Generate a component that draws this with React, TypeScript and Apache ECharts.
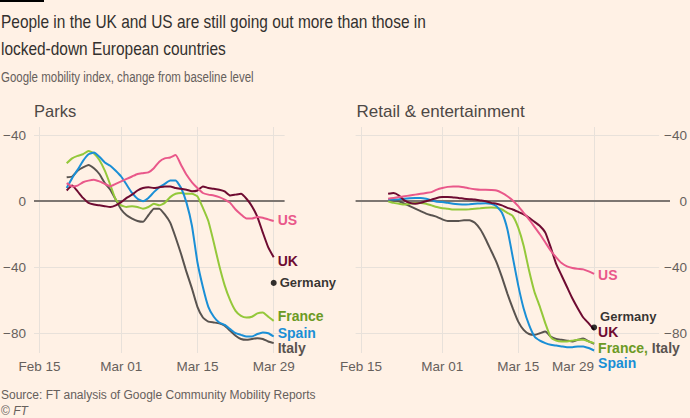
import React, { useEffect, useRef } from 'react';
import * as echarts from 'echarts';

// ---------- categories ----------
const MONTHS = ['Jan', 'Feb', 'Mar', 'Apr'];
function dayLabels(month: number, day: number, count: number): string[] {
  const out: string[] = [];
  for (let i = 0; i < count; i++) {
    const t = new Date(Date.UTC(2020, month, day + i));
    out.push(MONTHS[t.getUTCMonth()] + ' ' + String(t.getUTCDate()).padStart(2, '0'));
  }
  return out;
}
const catsParks = dayLabels(1, 14, 47); // Feb 14 .. Mar 31
const catsRetail = dayLabels(1, 14, 59); // Feb 14 .. Apr 12
const dataDates = dayLabels(1, 20, 39); // Feb 20 .. Mar 29
const tickLabels = ['Feb 15', 'Mar 01', 'Mar 15', 'Mar 29'];
const yTicks = [-80, -40, 0, 40];
const yGridLines = [-80, -40, 40];
const lastDate = 'Mar 29';

// ---------- Parks ----------
const parksUS = [11, 9, 9.5, 11.5, 12.5, 13, 12, 10.5, 9, 10.5, 12, 13.5, 15, 16.5, 17, 17.5, 20, 24, 26, 26.5, 28, 22, 16, 11.5, 8, 5, 4, 3.5, 2.5, 1, -1, -5, -8, -10.5, -10.5, -9.5, -10, -11, -12];
const parksUK = [6.5, 9.5, 6, 2, -1, -2, -2.5, -3, -3.5, -2.5, -0.5, 2, 4, 6.5, 8, 8.5, 8, 8.5, 9, 9, 8, 7.5, 7, 6, 6.5, 9, 8, 7.5, 7, 6, 3.5, 4, 4.5, 1.5, -3, -9.5, -19, -28, -34];
const parksFrance = [23, 26, 27.5, 28.5, 30.5, 29, 25, 18.5, 10, 1, -2.5, -3.5, -3, -3.5, -4.5, -3.5, -1.5, -2.5, -1, 2.5, 4.5, 5, 4.5, 4.5, 3, -4, -12, -25, -39, -51, -60, -66.5, -69.5, -70.5, -70, -68, -67.5, -70, -72.5];
const parksSpain = [8, 14, 19, 24.5, 28.5, 29.5, 27, 23.5, 21.5, 18.5, 15, 10, 5, 1.5, 0, 2, 5.5, 8.5, 10.5, 12.5, 12.5, 8, -1, -15, -37, -52, -64, -70, -73.5, -75, -77.5, -80, -81, -82, -82, -80.5, -79.5, -80, -82];
const parksItaly = [14.5, 15, 18.5, 20.5, 22, 20, 16.5, 11, 7, 1, -5, -8.5, -10.5, -12, -12.5, -8.5, -4.5, -4.5, -8, -13, -22, -32, -43, -53, -64, -70.5, -73, -73.5, -74, -75.5, -78.5, -81.5, -83.5, -84, -83.5, -83, -83.5, -85, -86];
const parksGermany = -49.5;

// ---------- Retail & entertainment ----------
const retailUS = [1.5, 2, 2.5, 3, 3.5, 4, 4.5, 5, 5.5, 7, 8, 8.7, 9, 9, 8.5, 7.8, 7.3, 7, 7, 6.8, 6.5, 5, 3, 0.5, -3, -7, -11, -15.5, -20, -25, -30, -34, -37.5, -39.5, -40.5, -41, -41.3, -42.5, -44];
const retailUK = [4.5, 5, 3.5, 0.5, -1, -1.5, -1, 0, 1, 2, 2.5, 2.6, 2.3, 2, 1.5, 1.2, 1, 0.5, 0, -1, -1.5, -2.5, -4, -5, -6.5, -8, -10, -12.5, -15, -19, -28, -38, -45, -52, -59, -65, -70.5, -74, -78];
const retailFrance = [0, -1, -1.5, -2, -1.5, -1, -1, -1.5, -2.5, -3.5, -4.2, -4.5, -5, -5, -5, -4.8, -4.5, -4.3, -4, -3.8, -4, -5, -7, -9, -16, -27, -42, -55, -64, -74, -82.5, -84.5, -85, -85, -84.5, -84, -84, -85, -86];
const retailSpain = [1, 1, 1.2, 1.5, 1.8, 2, 2, 1.5, 0.5, -0.3, -0.5, -1, -1.5, -1.8, -2, -1.8, -1.5, -1.3, -1.2, -1.5, -3, -7, -17, -34, -51, -65, -75, -82, -84.5, -86, -87, -87.5, -88, -88.5, -88.5, -88, -88, -89, -90.5];
const retailItaly = [0.5, 0.5, 0, -1.5, -3, -4.5, -6, -7.5, -8.5, -9.5, -11, -12, -12, -12, -11.5, -11.5, -13, -17, -23, -30, -37, -46, -56, -65, -73, -78, -80.5, -81, -80, -79, -82, -83.5, -84, -84.5, -85, -84, -83.2, -85, -86.5];
const retailGermany = -76.5;

// ---------- styles ----------
const BG = '#fff1e5';
const FONT = "'Liberation Sans', Arial, sans-serif";
const C = {
  US: '#e9588a',
  UK: '#6e0b31',
  France: '#94c83a',
  FranceLabel: '#6c9a24',
  Spain: '#1a8fd6',
  Italy: '#59534f',
  Germany: '#000000',
  grid: '#e8e1da',
  zero: '#7d7671',
  axisText: '#66605c',
};

const pair = (arr: number[]) => dataDates.map((d, i) => [d, arr[i]]);
const isTick = (_i: number, v: string) => tickLabels.includes(v);
const fmtY = (v: number) => (v === 0 ? '0' : '\u2212' + Math.abs(v));

function gridLines(cats: string[], lightEnd: string, zeroEnd: string) {
  const data: any[] = yGridLines.map((v) => [
    { coord: [cats[0], v], lineStyle: { color: C.grid, width: 1, type: 'solid' } },
    { coord: [lightEnd, v] },
  ]);
  data.push([
    { coord: [cats[0], 0], lineStyle: { color: C.zero, width: 2, type: 'solid' } },
    { coord: [zeroEnd, 0] },
  ]);
  return { silent: true, z: 1, symbol: ['none', 'none'], label: { show: false }, data };
}

function lineSeries(name: string, idx: number, arr: number[], color: string, label: any, extra: any = {}) {
  return {
    name,
    type: 'line',
    xAxisIndex: idx,
    yAxisIndex: idx,
    data: pair(arr),
    showSymbol: false,
    smooth: 0.15,
    z: 3,
    silent: true,
    lineStyle: { color, width: 2 },
    endLabel: label
      ? {
          show: true,
          distance: 4,
          fontFamily: FONT,
          fontWeight: 'bold',
          fontSize: 14,
          lineHeight: 12,
          color,
          ...label,
        }
      : { show: false },
    ...extra,
  };
}

function germany(idx: number, v: number, dy: number) {
  return {
    name: 'Germany',
    type: 'scatter',
    xAxisIndex: idx,
    yAxisIndex: idx,
    data: [[lastDate, v]],
    symbol: 'circle',
    symbolSize: 6,
    z: 4,
    silent: true,
    itemStyle: { color: C.Germany },
    label: {
      show: true,
      position: 'right',
      distance: 3,
      offset: [0, dy],
      formatter: 'Germany',
      fontFamily: FONT,
      fontWeight: 'bold',
      fontSize: 13,
      lineHeight: 12,
      color: C.Germany,
    },
  };
}

function xAxis(idx: number, cats: string[], shiftLast: boolean) {
  return {
    gridIndex: idx,
    type: 'category',
    data: cats,
    boundaryGap: false,
    axisLine: { show: false },
    axisTick: { show: false },
    axisLabel: {
      interval: isTick,
      color: C.axisText,
      fontSize: 13.5,
      fontFamily: FONT,
      margin: 6,
      formatter: (v: string) => (shiftLast && v === lastDate ? `{a|${v}}{p|}` : v),
      rich: {
        a: { color: C.axisText, fontSize: 13.5, fontFamily: FONT },
        p: { width: 42 },
      },
    },
    splitLine: { show: true, interval: isTick, lineStyle: { color: C.grid, width: 1 } },
  };
}

function yAxis(idx: number, position: string, margin: number) {
  return {
    gridIndex: idx,
    type: 'value',
    position,
    min: -92,
    max: 45,
    splitLine: { show: false },
    axisLine: { show: false },
    axisTick: { show: false },
    axisLabel: {
      customValues: yTicks,
      formatter: fmtY,
      color: C.axisText,
      fontSize: 13.5,
      fontFamily: FONT,
      margin,
      align: 'right',
    },
  };
}

export default function App() {
  const ref = useRef<HTMLDivElement>(null);
  useEffect(() => {
    if (!ref.current) return;
    const chart = echarts.init(ref.current, undefined, { renderer: 'svg' });
    const option: any = {
      animation: false,
      backgroundColor: BG,
      grid: [
        { left: 34, top: 127, width: 250.6, height: 226 },
        { left: 355.6, top: 127, width: 315, height: 226 },
      ],
      xAxis: [xAxis(0, catsParks, false), xAxis(1, catsRetail, true)],
      yAxis: [yAxis(0, 'left', 8), yAxis(1, 'right', 17)],
      graphic: [
        { type: 'rect', left: 0, top: 0, shape: { x: 0, y: 0, width: 44, height: 2 }, style: { fill: '#000' } },
        { type: 'text', x: 1, y: 22, scaleX: 0.835, style: { text: 'People in the UK and US are still going out more than those in', font: `18.5px ${FONT}`, fill: '#33302e', verticalAlign: 'middle' } },
        { type: 'text', x: 1, y: 49, scaleX: 0.835, style: { text: 'locked-down European countries', font: `18.5px ${FONT}`, fill: '#33302e', verticalAlign: 'middle' } },
        { type: 'text', x: 1, y: 77, scaleX: 0.82, style: { text: 'Google mobility index, change from baseline level', font: `14px ${FONT}`, fill: '#66605c', verticalAlign: 'middle' } },
        { type: 'text', x: 34, y: 111, style: { text: 'Parks', font: `16.5px ${FONT}`, fill: '#4d4845', verticalAlign: 'middle' } },
        { type: 'text', x: 356.5, y: 111, style: { text: 'Retail & entertainment', font: `17px ${FONT}`, fill: '#4d4845', verticalAlign: 'middle' } },
        { type: 'text', x: 1, y: 395, style: { text: 'Source: FT analysis of Google Community Mobility Reports', font: `12px ${FONT}`, fill: '#66605c', verticalAlign: 'middle' } },
        {
          type: 'text',
          x: 1,
          y: 411,
          style: {
            text: '\u00a9 {i|FT}',
            font: `12px ${FONT}`,
            fill: '#66605c',
            verticalAlign: 'middle',
            rich: { i: { fontStyle: 'italic', fontSize: 12, fontFamily: FONT, fill: '#66605c' } },
          },
        },
      ],
      series: [
        // Parks
        lineSeries('Italy', 0, parksItaly, C.Italy, { formatter: 'Italy', offset: [0, 5] }, { markLine: gridLines(catsParks, catsParks[catsParks.length - 1], catsParks[catsParks.length - 1]) }),
        lineSeries('France', 0, parksFrance, C.France, { formatter: 'France', offset: [0, -4.5], color: C.FranceLabel }),
        lineSeries('Spain', 0, parksSpain, C.Spain, { formatter: 'Spain', offset: [0, -3.5] }),
        lineSeries('UK', 0, parksUK, C.UK, { formatter: 'UK', offset: [0, 4] }),
        lineSeries('US', 0, parksUS, C.US, { formatter: 'US', offset: [0, -1] }),
        germany(0, parksGermany, 0),
        // Retail
        lineSeries('Italy', 1, retailItaly, C.Italy, null, { markLine: gridLines(catsRetail, 'Apr 10', catsRetail[catsRetail.length - 1]) }),
        lineSeries('France', 1, retailFrance, C.France, {
          formatter: '{f|France,} {i|Italy}',
          offset: [0, 4.5],
          rich: {
            f: { color: C.FranceLabel, fontWeight: 'bold', fontSize: 14, lineHeight: 12, fontFamily: FONT },
            i: { color: C.Italy, fontWeight: 'bold', fontSize: 14, lineHeight: 12, fontFamily: FONT },
          },
        }),
        lineSeries('Spain', 1, retailSpain, C.Spain, { formatter: 'Spain', offset: [0, 12.5] }),
        lineSeries('UK', 1, retailUK, C.UK, { formatter: 'UK', offset: [0, 2] }),
        lineSeries('US', 1, retailUS, C.US, { formatter: 'US', offset: [0, 1.5] }),
        germany(1, retailGermany, -11),
      ],
    };
    chart.setOption(option);
    return () => chart.dispose();
  }, []);
  return (
    <div
      ref={ref}
      style={{ position: 'absolute', left: 0, top: 0, width: 690, height: 418, background: BG }}
    />
  );
}
